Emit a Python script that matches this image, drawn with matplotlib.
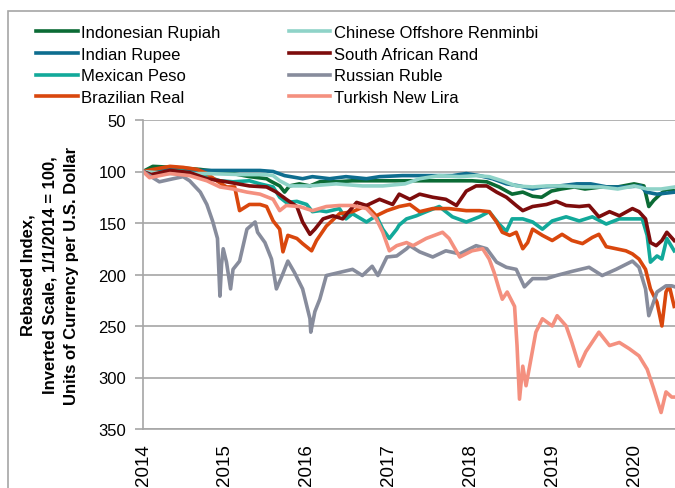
import matplotlib
matplotlib.use("Agg")
import matplotlib.pyplot as plt
from matplotlib.patches import Rectangle

# ---------------- data (decimal years) ----------------

idr_x = [2014.0, 2014.12, 2014.37, 2014.7, 2014.9, 2015.1, 2015.3, 2015.51, 2015.55, 2015.67,
         2015.73, 2015.79, 2015.91, 2016.04, 2016.16, 2016.36, 2016.56, 2016.77, 2016.89, 2017.2,
         2017.5, 2017.8, 2018.02, 2018.2, 2018.35, 2018.51, 2018.64, 2018.76, 2018.87, 2018.99,
         2019.11, 2019.27, 2019.4, 2019.6, 2019.8, 2020.0, 2020.12, 2020.18, 2020.24, 2020.32,
         2020.4, 2020.5]
idr_y = [100, 95, 96, 98, 100, 102, 105, 107, 109, 114,
         120, 114, 112, 114, 110, 110, 109, 109, 109, 109,
         109, 109, 109, 110, 115, 122, 120, 124, 125, 119,
         117, 115, 117, 115, 115, 112, 114, 134, 128, 122,
         117, 119]

inr_x = [2014.0, 2014.3, 2014.6, 2014.9, 2015.2, 2015.43, 2015.59, 2015.73, 2015.95, 2016.07,
         2016.28, 2016.48, 2016.73, 2016.89, 2017.17, 2017.38, 2017.58, 2017.78, 2017.95, 2018.11,
         2018.27, 2018.44, 2018.6, 2018.76, 2018.88, 2019.09, 2019.3, 2019.47, 2019.67, 2019.88,
         2020.08, 2020.15, 2020.28, 2020.5]
inr_y = [100, 98, 99, 99, 99, 99, 100, 104, 107, 105,
         107, 105, 107, 105, 104, 104, 104, 104, 102, 104,
         107, 112, 114, 117, 115, 114, 112, 112, 115, 115,
         114, 120, 122, 120]

mxn_x = [2014.0, 2014.2, 2014.45, 2014.78, 2014.94, 2015.1, 2015.3, 2015.43, 2015.59, 2015.67,
         2015.75, 2015.88, 2016.0, 2016.07, 2016.16, 2016.24, 2016.4, 2016.48, 2016.56, 2016.73,
         2016.85, 2016.93, 2017.01, 2017.1, 2017.13, 2017.22, 2017.34, 2017.46, 2017.62, 2017.78,
         2017.95, 2018.11, 2018.23, 2018.35, 2018.44, 2018.51, 2018.64, 2018.76, 2018.88, 2019.0,
         2019.17, 2019.33, 2019.49, 2019.66, 2019.82, 2019.98, 2020.1, 2020.16, 2020.2, 2020.28,
         2020.34, 2020.4, 2020.49]
mxn_y = [100, 101, 99, 105, 109, 110, 109, 112, 115, 125,
         130, 129, 132, 139, 138, 139, 136, 146, 141, 149,
         143, 156, 165, 156, 152, 146, 143, 139, 134, 144,
         149, 144, 139, 151, 158, 146, 146, 149, 156, 148,
         144, 148, 144, 151, 146, 146, 146, 162, 188, 182,
         185, 165, 177]

brl_x = [2014.0, 2014.12, 2014.33, 2014.49, 2014.66, 2014.78, 2014.9, 2015.02, 2015.12, 2015.18,
         2015.3, 2015.43, 2015.51, 2015.59, 2015.67, 2015.71, 2015.77, 2015.88, 2015.95, 2016.06,
         2016.12, 2016.24, 2016.4, 2016.56, 2016.73, 2016.85, 2016.98, 2017.13, 2017.26, 2017.38,
         2017.54, 2017.74, 2017.95, 2018.11, 2018.23, 2018.32, 2018.39, 2018.48, 2018.56, 2018.64,
         2018.7, 2018.76, 2018.88, 2019.0, 2019.12, 2019.24, 2019.37, 2019.49, 2019.57, 2019.66,
         2019.78, 2019.9, 2019.98, 2020.06, 2020.14, 2020.2, 2020.28, 2020.34, 2020.39, 2020.43,
         2020.49]
brl_y = [100, 98, 95, 96, 98, 102, 109, 115, 115, 138,
         132, 132, 134, 148, 156, 178, 162, 165, 170, 177,
         167, 153, 141, 139, 133, 143, 138, 134, 132, 139,
         136, 136, 138, 138, 139, 149, 159, 162, 159, 175,
         169, 156, 162, 167, 161, 167, 170, 164, 161, 173,
         175, 177, 180, 185, 195, 214, 227, 250, 217, 211,
         231]

cnh_x = [2014.0, 2014.3, 2014.78, 2015.2, 2015.5, 2015.59, 2015.67, 2015.79, 2016.04, 2016.36,
         2016.68, 2016.93, 2017.2, 2017.38, 2017.62, 2017.87, 2018.07, 2018.23, 2018.39, 2018.56,
         2018.76, 2018.93, 2019.13, 2019.37, 2019.6, 2019.8, 2020.0, 2020.16, 2020.33, 2020.5]
cnh_y = [100, 102, 102, 103, 103, 104, 109, 114, 114, 112,
         114, 114, 112, 107, 104, 105, 104, 105, 109, 114,
         115, 114, 114, 115, 115, 117, 114, 117, 117, 115]

zar_x = [2014.0, 2014.1, 2014.33, 2014.57, 2014.78, 2015.02, 2015.3, 2015.51, 2015.63, 2015.75,
         2015.88, 2015.95, 2016.04, 2016.1, 2016.2, 2016.32, 2016.44, 2016.61, 2016.73, 2016.89,
         2017.05, 2017.13, 2017.26, 2017.38, 2017.54, 2017.7, 2017.83, 2017.95, 2018.07, 2018.2,
         2018.32, 2018.44, 2018.56, 2018.64, 2018.76, 2018.93, 2019.05, 2019.17, 2019.33, 2019.45,
         2019.57, 2019.7, 2019.82, 2019.98, 2020.06, 2020.14, 2020.2, 2020.27, 2020.34, 2020.4,
         2020.49]
zar_y = [100, 103, 99, 101, 107, 110, 114, 115, 120, 127,
         134, 149, 161, 156, 146, 143, 146, 130, 133, 127,
         132, 122, 127, 122, 125, 127, 133, 119, 114, 114,
         120, 125, 133, 138, 134, 132, 129, 133, 134, 133,
         144, 139, 143, 136, 139, 146, 169, 172, 167, 159,
         167]

rub_x = [2014.0, 2014.2, 2014.37, 2014.49, 2014.57, 2014.7, 2014.78, 2014.85, 2014.91, 2014.94,
         2014.96, 2014.98, 2015.02, 2015.07, 2015.1, 2015.18, 2015.27, 2015.37, 2015.4, 2015.49,
         2015.57, 2015.63, 2015.7, 2015.77, 2015.85, 2015.95, 2016.04, 2016.05, 2016.1, 2016.16,
         2016.24, 2016.4, 2016.56, 2016.68, 2016.8, 2016.87, 2016.98, 2017.1, 2017.22, 2017.26,
         2017.38, 2017.54, 2017.7, 2017.87, 2018.07, 2018.2, 2018.32, 2018.44, 2018.56, 2018.66,
         2018.76, 2018.93, 2019.05, 2019.24, 2019.45, 2019.61, 2019.78, 2019.98, 2020.06, 2020.14,
         2020.18, 2020.22, 2020.28, 2020.39, 2020.46, 2020.5]
rub_y = [100, 110, 107, 105, 109, 120, 132, 148, 165, 221,
         190, 175, 188, 214, 195, 187, 156, 149, 159, 169,
         185, 214, 201, 187, 198, 214, 243, 256, 236, 224,
         201, 198, 195, 201, 192, 201, 183, 182, 175, 172,
         178, 183, 177, 180, 172, 175, 188, 193, 195, 212,
         204, 204, 201, 197, 193, 201, 195, 187, 193, 214,
         240, 231, 217, 211, 211, 212]

try_x = [2014.0, 2014.08, 2014.33, 2014.57, 2014.78, 2014.94, 2015.1, 2015.27, 2015.43, 2015.59,
         2015.67, 2015.75, 2015.91, 2016.07, 2016.24, 2016.4, 2016.56, 2016.73, 2016.85, 2016.93,
         2017.01, 2017.1, 2017.22, 2017.3, 2017.46, 2017.66, 2017.74, 2017.87, 2018.02, 2018.15,
         2018.23, 2018.29, 2018.35, 2018.39, 2018.45, 2018.54, 2018.57, 2018.6, 2018.64, 2018.68,
         2018.74, 2018.8, 2018.88, 2019.0, 2019.06, 2019.17, 2019.24, 2019.33, 2019.41, 2019.57,
         2019.7, 2019.82, 2019.94, 2020.06, 2020.16, 2020.24, 2020.33, 2020.39, 2020.46, 2020.5]
try_y = [100, 106, 102, 104, 109, 115, 117, 120, 122, 127,
         138, 133, 134, 138, 134, 133, 133, 136, 146, 159,
         177, 172, 169, 172, 165, 159, 165, 183, 177, 175,
         185, 198, 214, 224, 217, 231, 269, 321, 289, 308,
         282, 256, 243, 250, 240, 250, 266, 289, 275, 256,
         269, 266, 272, 279, 292, 311, 334, 314, 319, 319]

series = [
    ("Indonesian Rupiah", idr_x, idr_y, "#0b6b35"),
    ("Indian Rupee", inr_x, inr_y, "#0e6d8f"),
    ("Mexican Peso", mxn_x, mxn_y, "#12a99a"),
    ("Brazilian Real", brl_x, brl_y, "#d9470d"),
    ("Chinese Offshore Renminbi", cnh_x, cnh_y, "#8fd3c8"),
    ("South African Rand", zar_x, zar_y, "#7d0c0c"),
    ("Russian Ruble", rub_x, rub_y, "#878c9c"),
    ("Turkish New Lira", try_x, try_y, "#f4907f"),
]

years = [2014, 2015, 2016, 2017, 2018, 2019, 2020]
y_ticks = [50, 100, 150, 200, 250, 300, 350]

# ---------------- plot ----------------

plt.rcParams["font.family"] = ["Liberation Sans", "DejaVu Sans"]

fig = plt.figure(figsize=(6.75, 4.89), dpi=100)
ax = fig.add_axes([143 / 675, 1 - 430 / 489, 1 - 143 / 675, (430 - 121) / 489])

# outer frame of the exhibit
fig.patches.append(Rectangle((8 / 675, -0.2), 1.5, 1.2 - 12 / 489, transform=fig.transFigure,
                             fill=False, edgecolor="#a6a6a6", linewidth=1.2))

lines = []
for name, xs, ys, col in series:
    ln, = ax.plot(xs, ys, color=col, linewidth=2.6, label=name, solid_joinstyle="round")
    lines.append(ln)

ax.set_xlim(2014, 2020.5)
ax.set_ylim(350, 50)
ax.set_yticks(y_ticks)
ax.set_xticks(years)
ax.set_xticklabels([str(y) for y in years], rotation=90, fontsize=13.5)
ax.tick_params(axis="x", length=0, pad=10)
ax.tick_params(axis="y", labelsize=12, length=6, color="#a6a6a6", width=1.2, pad=6)
ax.grid(axis="y", color="#a6a6a6", linewidth=1.2)
ax.set_axisbelow(True)
for s in ["top", "right"]:
    ax.spines[s].set_visible(False)
for s in ["left", "bottom"]:
    ax.spines[s].set_color("#a6a6a6")
    ax.spines[s].set_linewidth(1.2)

ax.set_ylabel("Rebased Index,\nInverted Scale, 1/1/2014 = 100,\nUnits of Currency per U.S. Dollar",
              fontsize=12, fontweight="bold", labelpad=14, linespacing=1.55)

fig.legend(handles=lines, loc="upper left", bbox_to_anchor=(36 / 675, 1 - 26 / 489),
           ncol=2, frameon=False, fontsize=12, handlelength=2.5, handletextpad=0.2,
           labelspacing=0.4, columnspacing=4.1, borderaxespad=0, borderpad=0)

fig.savefig("out.png", dpi=100)
